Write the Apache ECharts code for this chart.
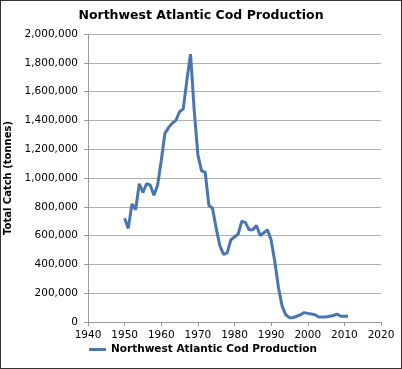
<!DOCTYPE html>
<html><head><meta charset="utf-8">
<script src="https://cdn.jsdelivr.net/npm/echarts@6/dist/echarts.min.js"></script>
<style>html,body{margin:0;padding:0;background:#fff}#c{width:402px;height:369px;box-sizing:border-box;border:1px solid #333}</style>
</head><body><div id="c"></div>
<script>
const years = [1950,1951,1952,1953,1954,1955,1956,1957,1958,1959,1960,1961,1962,1963,1964,1965,1966,1967,1968,1969,1970,1971,1972,1973,1974,1975,1976,1977,1978,1979,1980,1981,1982,1983,1984,1985,1986,1987,1988,1989,1990,1991,1992,1993,1994,1995,1996,1997,1998,1999,2000,2001,2002,2003,2004,2005,2006,2007,2008,2009,2010,2011];
const catchTonnes = [720000,650000,820000,780000,960000,900000,960000,950000,880000,950000,1120000,1310000,1350000,1380000,1400000,1460000,1480000,1680000,1860000,1470000,1160000,1050000,1040000,810000,790000,650000,530000,470000,480000,570000,590000,610000,700000,690000,640000,640000,670000,600000,620000,640000,570000,420000,240000,110000,50000,30000,30000,40000,50000,65000,60000,55000,50000,35000,35000,35000,40000,45000,55000,40000,40000,40000];
const yTicks = [0,200000,400000,600000,800000,1000000,1200000,1400000,1600000,1800000,2000000];
const xTicks = [1940,1950,1960,1970,1980,1990,2000,2010,2020];
const seriesName = 'Northwest Atlantic Cod Production';
const chart = echarts.init(document.getElementById('c'));
const F = 'DejaVu Sans, Verdana, sans-serif';
chart.setOption({
  animation:false,
  title:{text:'Northwest Atlantic Cod Production',left:'center',top:3,textStyle:{fontFamily:F,fontSize:12.5,fontWeight:'bold',color:'#000'}},
  grid:{left:87,right:20,top:33,bottom:46,containLabel:false,outerBoundsMode:'none'},
  legend:{bottom:8,left:83,itemWidth:17,itemHeight:3,icon:'rect',textStyle:{fontFamily:F,fontSize:10.5,fontWeight:'bold',color:'#000'},data:[seriesName]},
  xAxis:{type:'value',min:1940,max:2020,interval:10,
    axisLine:{lineStyle:{color:'#999'}},axisTick:{show:true,length:4,lineStyle:{color:'#999'}},
    splitLine:{show:false},axisLabel:{fontFamily:F,fontSize:10.5,color:'#000',margin:8,formatter:v=>xTicks.includes(v)?String(v):''}},
  yAxis:{type:'value',min:0,max:2000000,interval:200000,
    name:'Total Catch (tonnes)',nameLocation:'middle',nameGap:71,nameTextStyle:{fontFamily:F,fontSize:10,fontWeight:'bold',color:'#000'},
    axisLine:{show:true,lineStyle:{color:'#999'}},axisTick:{show:true,length:4,lineStyle:{color:'#999'}},
    splitLine:{show:true,lineStyle:{color:'#b0b0b0',width:1}},
    axisLabel:{fontFamily:F,fontSize:10.5,color:'#000',margin:10,formatter:v=>yTicks.includes(v)?v.toLocaleString('en-US'):''}},
  series:[{name:seriesName,type:'line',showSymbol:false,symbol:'none',lineStyle:{width:3,color:'#4a76b0'},itemStyle:{color:'#4a76b0'},
    data:years.map((y,i)=>[y,catchTonnes[i]])}]
});
</script></body></html>
